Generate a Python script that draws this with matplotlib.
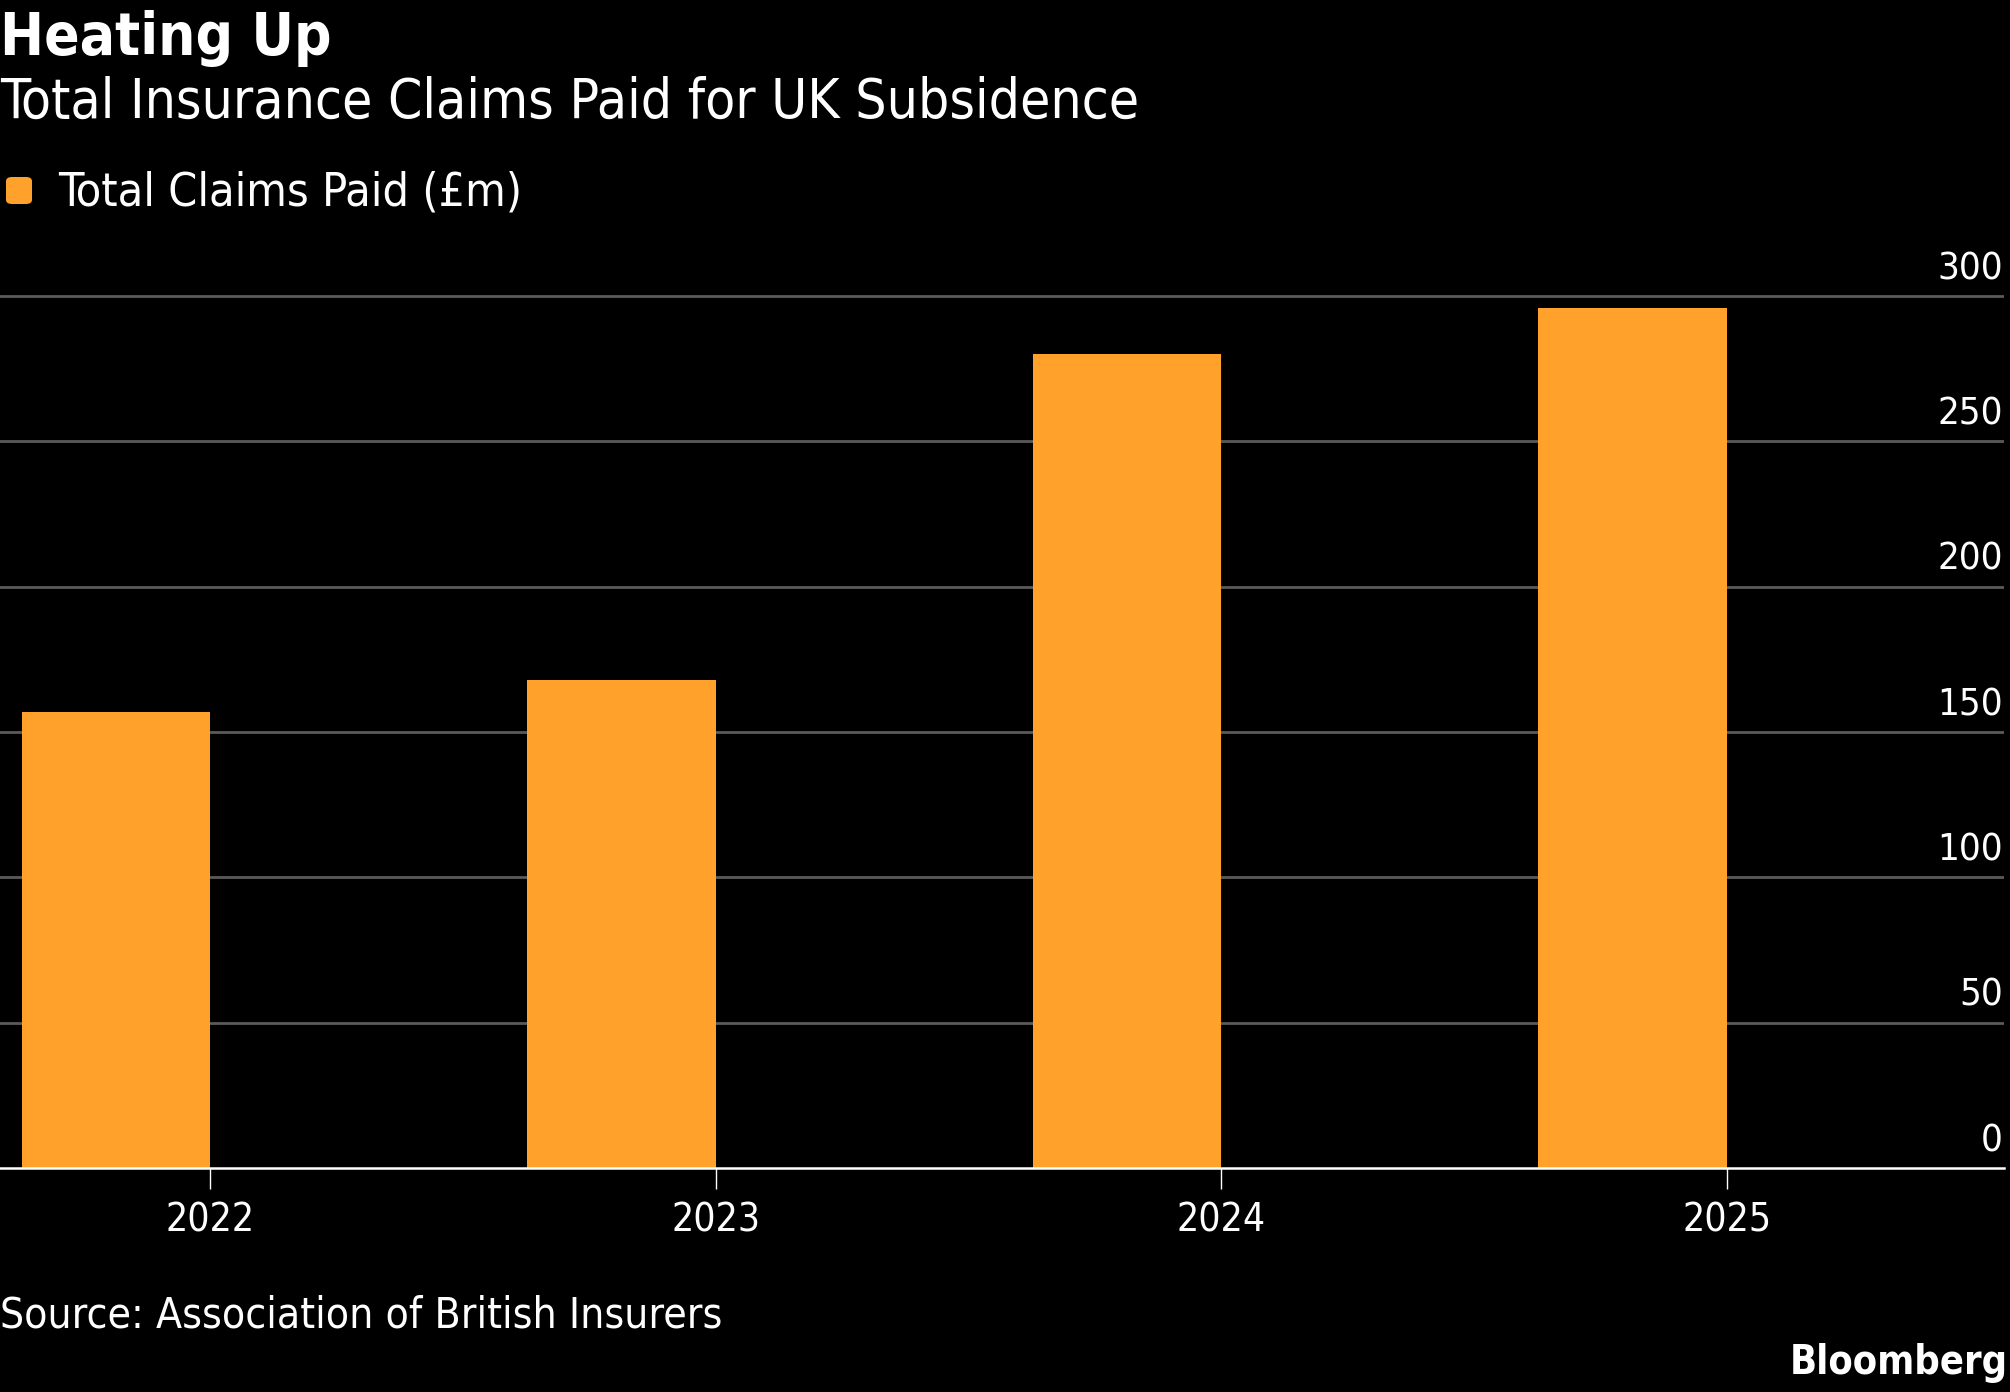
import numpy as np
import matplotlib
matplotlib.use("Agg")
import matplotlib.pyplot as plt
from matplotlib.patches import FancyBboxPatch

# data
years = ["2022", "2023", "2024", "2025"]
claims = [157, 168, 280, 296]
yticks = [0, 50, 100, 150, 200, 250, 300]

W, H = 2010, 1392
orange = "#FFA12B"
grid_col = "#5a5a5a"
plt.rcParams['font.family'] = ['DejaVu Sans']
fst = 'condensed'

fig = plt.figure(figsize=(W / 100, H / 100), dpi=100, facecolor="black")

# axes box in pixels
ax_left, ax_right = 0, 2004
ax_bottom, ax_top = 1168, 250
ax = fig.add_axes([ax_left / W, 1 - ax_bottom / H,
                   (ax_right - ax_left) / W, (ax_bottom - ax_top) / H])
ax.set_facecolor("black")

x = np.arange(len(years))
bw = 0.373
ax.bar(x - bw, claims, width=bw, align='edge', color=orange, zorder=3)

ax.set_xlim(-0.416, 3.548)
ymax = 300 + (296 - ax_top) / ((ax_bottom - 296) / 300)
ax.set_ylim(0, ymax)

for v in yticks[1:]:
    ax.axhline(v, color=grid_col, lw=2.0, zorder=1)
for v in yticks:
    ax.annotate(str(v), xy=(1, v), xycoords=('axes fraction', 'data'),
                xytext=(-1, 12), textcoords='offset points',
                ha='right', va='baseline', color='white', fontsize=27.5,
                fontstretch=fst)

for s in ['left', 'right', 'top']:
    ax.spines[s].set_visible(False)
ax.spines['bottom'].set_color('white')
ax.spines['bottom'].set_linewidth(1.8)
ax.spines['bottom'].set_zorder(4)
ax.set_yticks([])
ax.set_xticks(x)
ax.set_xticklabels(years, color='white', fontsize=28, fontstretch=fst)
ax.tick_params(axis='x', colors='white', length=15, width=1.0, pad=9)

# titles
fig.text(0, 1 - 55 / H, "Heating Up", color='white', fontsize=42,
         fontweight='bold', va='baseline', ha='left', fontstretch=fst)
fig.text(0, 1 - 118 / H, "Total Insurance Claims Paid for UK Subsidence",
         color='white', fontsize=39.5, va='baseline', ha='left', fontstretch=fst)

# legend
sq = FancyBboxPatch((6 / W, 1 - 204 / H), 26 / W, 27 / H,
                    boxstyle="round,pad=0,rounding_size=0.003",
                    transform=fig.transFigure, facecolor=orange,
                    edgecolor='none')
fig.patches.append(sq)
fig.text(58 / W, 1 - 205 / H, "Total Claims Paid (£m)", color='white',
         fontsize=33.5, va='baseline', ha='left', fontstretch=fst)

# footer
fig.text(0, 1 - 1327 / H, "Source: Association of British Insurers",
         color='white', fontsize=30.5, va='baseline', ha='left', fontstretch=fst)
fig.text(2008 / W, 1 - 1374 / H, "Bloomberg", color='white', fontsize=28.5,
         fontweight='bold', va='baseline', ha='right', fontstretch=fst)

fig.savefig("out.png", dpi=100, facecolor="black")
